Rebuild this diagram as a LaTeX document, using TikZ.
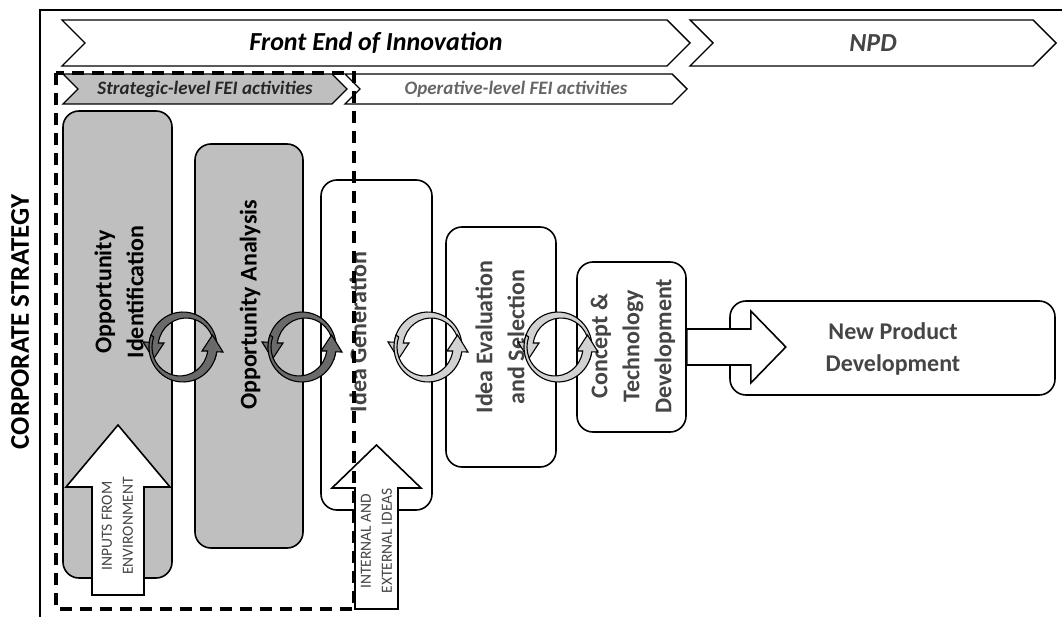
\documentclass[tikz,border=0pt]{standalone}
\usepackage{fontspec}
\setmainfont{Carlito}
\usetikzlibrary{shapes.symbols,positioning}
\definecolor{boxgray}{HTML}{BFBFBF}
\definecolor{txtgray}{HTML}{454545}
\definecolor{arrdark}{HTML}{6A6A6A}
\definecolor{arrlight}{HTML}{D2D2D2}

\newcommand{\cyclearrows}[2]{%
  \foreach \rot in {0,180} {
    \begin{scope}[shift={(#1)}, rotate=\rot]
      \filldraw[fill=#2, line width=1.1] (20:34 and 35)
        arc[start angle=20, end angle=-172, x radius=34, y radius=35]
        -- (-40,-5) -- (-29.5,12) -- (-19,-4) -- (-24.7,-4.0)
        arc[start angle=-172, end angle=20, x radius=28, y radius=29] -- cycle;
    \end{scope}
  }
}

\begin{document}
\begin{tikzpicture}[x=1pt, y=-1pt,
    chev/.style={draw, line width=1.4, signal, signal to=east, signal from=west,
      signal pointer angle=90, inner sep=0pt, font=\bfseries\itshape},
    box/.style={draw, line width=1.6, rounded corners=16pt},
    vtext/.style={rotate=90, align=center, font=\fontsize{24}{32}\selectfont\bfseries},
    itext/.style={rotate=90, align=center, text=txtgray, font=\fontsize{15.5}{21}\selectfont},
    bigarrow/.style={draw, line width=1.6, fill=white, line join=miter}]
  \useasboundingbox (0,0) rectangle (1062,617);
  \draw[line width=1.6] (1062,10) -| (40,617);
  \node[rotate=90, font=\fontsize{27}{30}\selectfont\bfseries] (cs) at (20,322) {CORPORATE STRATEGY};

  \node[chev, minimum width=628pt, minimum height=46pt, font=\fontsize{26}{30}\selectfont\bfseries\itshape] (fei) at (376,43) {Front End of Innovation};
  \node[chev, minimum width=366pt, minimum height=46pt, text=txtgray, font=\fontsize{26}{30}\selectfont\bfseries\itshape] (npdc) at (873,43) {NPD};
  \node[chev, fill=boxgray, minimum width=284pt, minimum height=30pt, text=black!85, font=\fontsize{19}{22}\selectfont\bfseries\itshape] (strat) at (205,89) {Strategic-level FEI activities};
  \node[chev, minimum width=342pt, minimum height=30pt, text=black!60, font=\fontsize{19}{22}\selectfont\bfseries\itshape] (oper) at (516,89) {Operative-level FEI activities};

  \node[box, fill=boxgray, minimum width=109pt, minimum height=467pt] (oppid) at (117.5,344.5) {};
  \node[box, fill=boxgray, minimum width=108pt, minimum height=404pt] (oppan) at (249,346) {};
  \node[box, fill=white, minimum width=111pt, minimum height=330pt] (ideagen) at (376.5,345) {};
  \node[box, fill=white, minimum width=110pt, minimum height=240pt] (ideaeval) at (501,347) {};
  \node[box, fill=white, minimum width=109pt, minimum height=170pt] (concept) at (631.5,347) {};
  \node[box, fill=white, minimum width=325pt, minimum height=94pt] (npd) at (892.5,348) {};

  \node[vtext] (tid) at (119,292) {Opportunity\\Identification};
  \node[vtext] (tan) at (250,305) {Opportunity Analysis};
  \node[vtext, text=txtgray] (tgen) at (358,332) {Idea Generation};
  \node[vtext, text=txtgray] (teval) at (500,337) {Idea Evaluation\\and Selection};
  \node[vtext, text=txtgray] (tcon) at (633,346) {Concept \&\\Technology\\Development};
  \node[align=center, text=txtgray, font=\fontsize{24}{32}\selectfont\bfseries] (tnpd) at (893,349) {New Product\\Development};

  \cyclearrows{183,347}{arrdark}
  \cyclearrows{302,347}{arrdark}
  \cyclearrows{428,347}{arrlight}
  \cyclearrows{558,347}{arrlight}

  \draw[bigarrow] (concept.east) ++(0,-18) -- ++(64,0) -- ++(0,-18) -- ++(35,36)
    -- ++(-35,36) -- ++(0,-18) -- ++(-64,0) -- cycle;

  \coordinate (inbase) at (117.5,595);
  \draw[bigarrow] (inbase) ++(-25.5,0) -- ++(0,-108) -- ++(-26,0) -- ++(52,-62)
    -- ++(52,62) -- ++(-26,0) -- ++(0,108) -- cycle;
  \node[itext] (tin) at (117.5,526) {INPUTS FROM\\ENVIRONMENT};

  \coordinate (idbase) at (376.5,609);
  \draw[bigarrow] (idbase) ++(-21.5,0) -- ++(0,-121) -- ++(-23,0) -- ++(44.5,-43)
    -- ++(44.5,43) -- ++(-23,0) -- ++(0,121) -- cycle;
  \node[itext] (tideas) at (376.5,541) {INTERNAL AND\\EXTERNAL IDEAS};

  \draw[line width=4, dash pattern=on 12pt off 8pt] (56,73) rectangle (354,609);
\end{tikzpicture}
\end{document}
